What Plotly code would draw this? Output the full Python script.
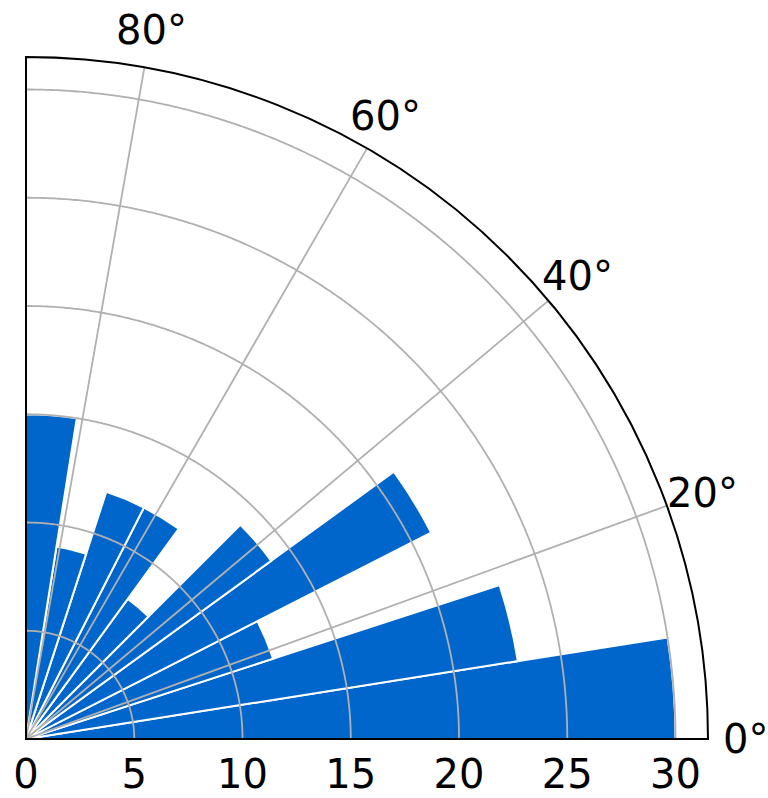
import math
import plotly.graph_objects as go

# Angular histogram: 10 bins of 9 degrees over the first quadrant
bin_centers = [4.5, 13.5, 22.5, 31.5, 40.5, 49.5, 58.5, 67.5, 76.5, 85.5]
bin_width = 9
counts = [30, 23, 12, 21, 14, 8, 12, 12, 9, 15]

angle_ticks = [0, 20, 40, 60, 80]
angle_labels = ["0°", "20°", "40°", "60°", "80°"]
radial_ticks = [0, 5, 10, 15, 20, 25, 30]
radial_max = 31.5
angle_label_r = 33.25  # angular tick labels sit just outside the outer arc

BAR_COLOR = "#0066CC"
GRID_COLOR = "#b0b0b0"
FONT = dict(family="DejaVu Sans", size=40, color="black")

fig = go.Figure()
fig.add_trace(go.Barpolar(
    r=counts,
    theta=bin_centers,
    width=[bin_width] * len(counts),
    marker=dict(color=BAR_COLOR, line=dict(color="white", width=2)),
    hoverinfo="skip",
))

# grid drawn on top of the bars: arcs at each radial tick, spokes at each angular tick
arc_theta = [i * 0.25 for i in range(361)]
for rv in radial_ticks[1:]:
    fig.add_trace(go.Scatterpolar(
        r=[rv] * len(arc_theta), theta=arc_theta, mode="lines",
        line=dict(color=GRID_COLOR, width=1.8), hoverinfo="skip",
    ))
for tv in angle_ticks[1:]:
    fig.add_trace(go.Scatterpolar(
        r=[0, radial_max], theta=[tv, tv], mode="lines",
        line=dict(color=GRID_COLOR, width=1.8), hoverinfo="skip",
    ))

# straight edge of the quadrant along 90 degrees
fig.add_trace(go.Scatterpolar(
    r=[0, radial_max], theta=[90, 90], mode="lines",
    line=dict(color="black", width=2), hoverinfo="skip",
))

# angular tick labels, centred on their tick direction just beyond the arc
# (the polar domain spans the whole plot area, so one radial unit = 1/radial_max of it)
label_scale = angle_label_r / radial_max
annotations = [
    dict(
        x=label_scale * math.cos(math.radians(a)),
        y=label_scale * math.sin(math.radians(a)),
        xref="paper", yref="paper",
        text=t, showarrow=False,
        xanchor="center", yanchor="middle",
        font=FONT,
    )
    for a, t in zip(angle_ticks, angle_labels)
]

fig.update_layout(
    width=768,
    height=798,
    margin=dict(l=26, r=60, t=57, b=59),
    paper_bgcolor="white",
    plot_bgcolor="white",
    showlegend=False,
    font=FONT,
    annotations=annotations,
    polar=dict(
        sector=[0, 90],
        bgcolor="white",
        domain=dict(x=[0, 1], y=[0, 1]),
        angularaxis=dict(
            rotation=0,
            direction="counterclockwise",
            tickmode="array",
            tickvals=angle_ticks,
            ticktext=angle_labels,
            showticklabels=False,
            showline=True,
            linecolor="black",
            linewidth=2,
            showgrid=False,
            ticks="",
            layer="above traces",
        ),
        radialaxis=dict(
            range=[0, radial_max],
            tickmode="array",
            tickvals=radial_ticks,
            showline=True,
            linecolor="black",
            linewidth=2,
            showgrid=False,
            ticks="",
            angle=0,
            tickangle=0,
            side="clockwise",
            tickfont=FONT,
            layer="above traces",
        ),
    ),
)

fig.write_html("out.html")
